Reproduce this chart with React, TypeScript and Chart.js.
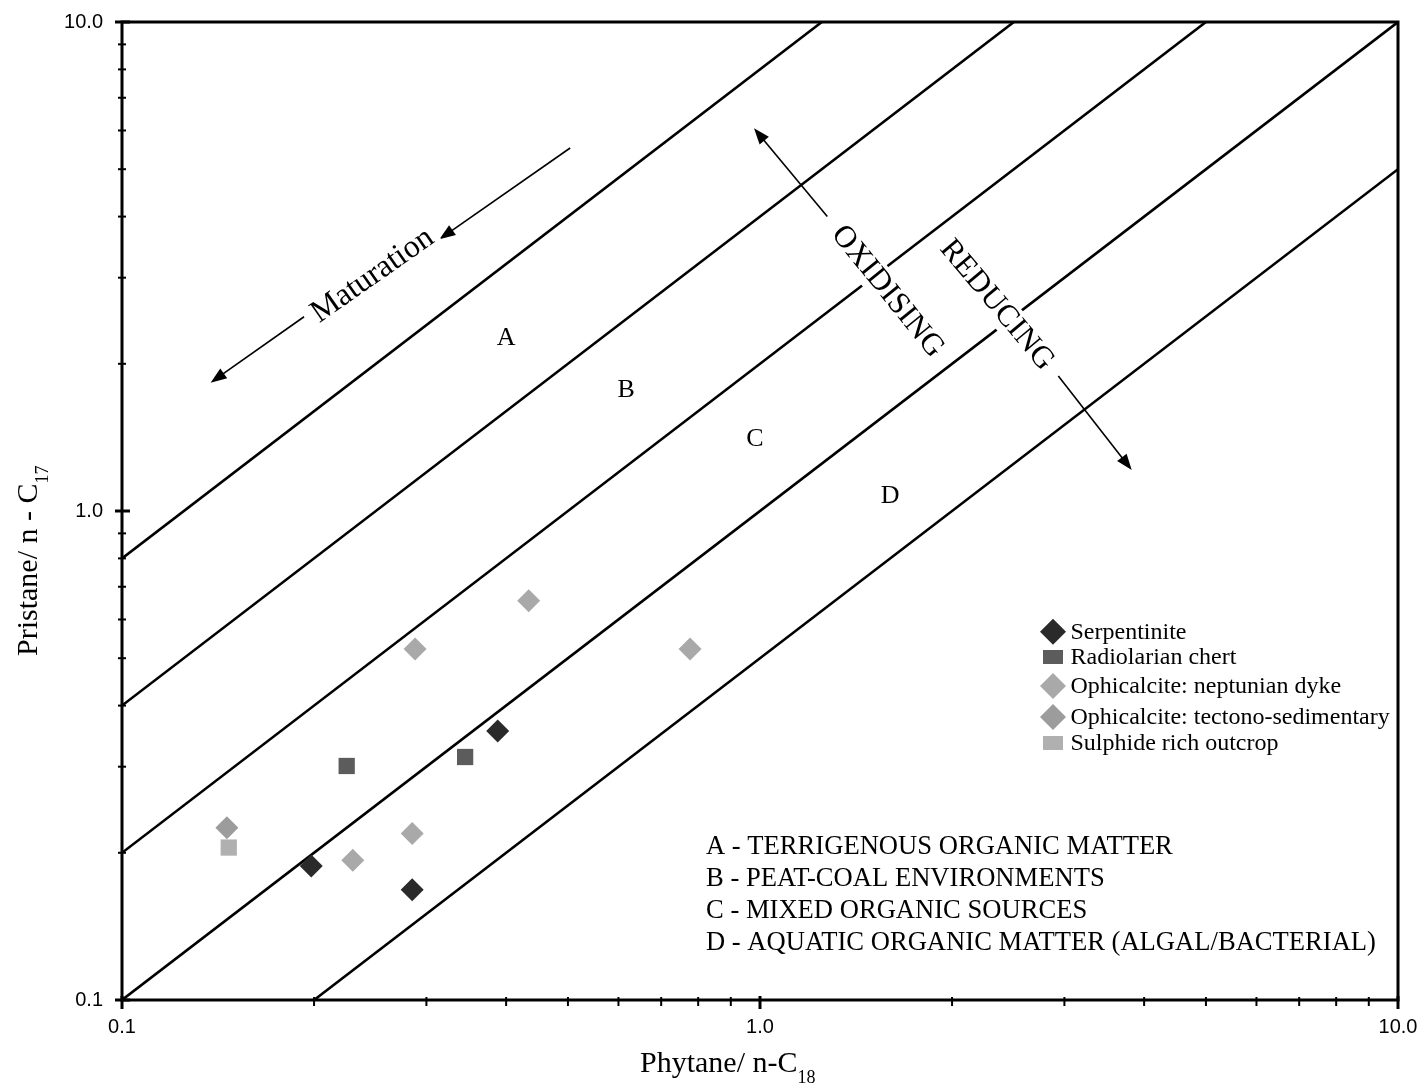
import React, { useEffect, useRef } from 'react';
import { Chart, registerables } from 'chart.js';

Chart.register(...registerables);

const SERIF = '"Liberation Serif", "Times New Roman", serif';
const SANS = '"Liberation Sans", Arial, sans-serif';

// ---- data series ----
const serpentiniteX = [0.198, 0.285, 0.388];
const serpentiniteY = [0.188, 0.168, 0.355];
const chertX = [0.225, 0.345];
const chertY = [0.301, 0.314];
const dykeX = [0.288, 0.434, 0.777, 0.285, 0.23];
const dykeY = [0.522, 0.655, 0.522, 0.219, 0.193];
const tectonoX = [0.146];
const tectonoY = [0.225];
const sulphideX = [0.147];
const sulphideY = [0.205];

const seriesNames = [
  'Serpentinite',
  'Radiolarian chert',
  'Ophicalcite: neptunian dyke',
  'Ophicalcite: tectono-sedimentary',
  'Sulphide rich outcrop',
];
const seriesColors = ['#2a2a2a', '#5c5c5c', '#a9a9a9', '#9c9c9c', '#b0b0b0'];
const seriesShapes = ['rectRot', 'rect', 'rectRot', 'rectRot', 'rect'];

// ---- zone boundary lines (Pr/n-C17 = k * Ph/n-C18) ----
const boundaryStartX = [0.2, 0.1, 0.1, 0.1, 0.1];
const boundaryStartY = [0.1, 0.1, 0.2, 0.4, 0.8];
const boundaryEndX = [10, 10, 5, 2.5, 1.25];
const boundaryEndY = [5, 10, 10, 10, 10];

// ---- ticks ----
const majorTicks = [0.1, 1, 10];
const minorTicks = [0.2, 0.3, 0.4, 0.5, 0.6, 0.7, 0.8, 0.9, 2, 3, 4, 5, 6, 7, 8, 9];

// ---- zone letters ----
const zoneLetters = ['A', 'B', 'C', 'D'];
const zoneLetterX = [0.4, 0.617, 0.982, 1.6];
const zoneLetterY = [2.26, 1.767, 1.404, 1.073];

const keyLines = [
  'A - TERRIGENOUS ORGANIC MATTER',
  'B - PEAT-COAL ENVIRONMENTS',
  'C - MIXED ORGANIC SOURCES',
  'D - AQUATIC ORGANIC MATTER (ALGAL/BACTERIAL)',
];

// arrows in data coordinates: [x1, y1, x2(tip), y2(tip)]
const arrowSegments = [
  [0.504, 5.525, 0.3144, 3.594],
  [0.1929, 2.496, 0.1377, 1.83],
  [1.275, 4.0, 0.9786, 6.06],
  [2.935, 1.888, 3.825, 1.213],
];

const rotatedLabels = ['Maturation', 'OXIDISING', 'REDUCING'];
const rotatedLabelX = [0.247, 1.584, 2.35];
const rotatedLabelY = [3.03, 2.81, 2.638];
const rotatedLabelAngle = [-35, 51, 50];

function pts(xs: number[], ys: number[]) {
  return xs.map((x, i) => ({ x, y: ys[i] }));
}

function drawArrow(ctx: CanvasRenderingContext2D, x1: number, y1: number, x2: number, y2: number) {
  const ang = Math.atan2(y2 - y1, x2 - x1);
  const L = 16;
  const W = 6;
  ctx.beginPath();
  ctx.moveTo(x1, y1);
  ctx.lineTo(x2 - Math.cos(ang) * L * 0.7, y2 - Math.sin(ang) * L * 0.7);
  ctx.stroke();
  ctx.beginPath();
  ctx.moveTo(x2, y2);
  ctx.lineTo(x2 - L * Math.cos(ang) + W * Math.sin(ang), y2 - L * Math.sin(ang) - W * Math.cos(ang));
  ctx.lineTo(x2 - L * Math.cos(ang) - W * Math.sin(ang), y2 - L * Math.sin(ang) + W * Math.cos(ang));
  ctx.closePath();
  ctx.fill();
}

const overlayPlugin = {
  id: 'overlay',
  afterDraw(chart: any) {
    const { ctx, chartArea } = chart;
    const xs = chart.scales.x;
    const ys = chart.scales.y;
    const { left, right, top, bottom } = chartArea;
    ctx.save();

    // frame
    ctx.strokeStyle = '#000';
    ctx.lineWidth = 3;
    ctx.strokeRect(left, top, right - left, bottom - top);

    // y ticks
    majorTicks.forEach((v) => {
      const p = ys.getPixelForValue(v);
      ctx.lineWidth = 3;
      ctx.beginPath();
      ctx.moveTo(left - 7, p);
      ctx.lineTo(left + 8, p);
      ctx.stroke();
    });
    minorTicks.forEach((v) => {
      const p = ys.getPixelForValue(v);
      ctx.lineWidth = 2;
      ctx.beginPath();
      ctx.moveTo(left - 4, p);
      ctx.lineTo(left + 4, p);
      ctx.stroke();
    });
    // x ticks
    majorTicks.forEach((v) => {
      const p = xs.getPixelForValue(v);
      ctx.lineWidth = 3;
      ctx.beginPath();
      ctx.moveTo(p, bottom - 4);
      ctx.lineTo(p, bottom + 9);
      ctx.stroke();
    });
    minorTicks.forEach((v) => {
      const p = xs.getPixelForValue(v);
      ctx.lineWidth = 2;
      ctx.beginPath();
      ctx.moveTo(p, bottom - 3);
      ctx.lineTo(p, bottom + 6);
      ctx.stroke();
    });

    // arrows
    ctx.fillStyle = '#000';
    ctx.lineWidth = 1.6;
    arrowSegments.forEach((a) => {
      drawArrow(
        ctx,
        xs.getPixelForValue(a[0]),
        ys.getPixelForValue(a[1]),
        xs.getPixelForValue(a[2]),
        ys.getPixelForValue(a[3])
      );
    });

    // rotated labels with white background
    rotatedLabels.forEach((t, i) => {
      const px = xs.getPixelForValue(rotatedLabelX[i]);
      const py = ys.getPixelForValue(rotatedLabelY[i]);
      ctx.save();
      ctx.translate(px, py);
      ctx.rotate((rotatedLabelAngle[i] * Math.PI) / 180);
      ctx.font = (i === 0 ? '32px ' : '31px ') + SERIF;
      const w = ctx.measureText(t).width;
      ctx.fillStyle = '#fff';
      ctx.fillRect(-w / 2 - 6, -16, w + 12, 32);
      ctx.fillStyle = '#000';
      ctx.textAlign = 'center';
      ctx.textBaseline = 'middle';
      ctx.fillText(t, 0, 0);
      ctx.restore();
    });

    // zone letters
    ctx.font = '26px ' + SERIF;
    ctx.fillStyle = '#000';
    ctx.textAlign = 'center';
    ctx.textBaseline = 'middle';
    zoneLetters.forEach((t, i) => {
      ctx.fillText(t, xs.getPixelForValue(zoneLetterX[i]), ys.getPixelForValue(zoneLetterY[i]));
    });

    // key text
    ctx.font = '26.6px ' + SERIF;
    ctx.textAlign = 'left';
    ctx.textBaseline = 'middle';
    keyLines.forEach((t, i) => {
      ctx.fillText(t, 706, 847 + i * 32);
    });

    // legend
    const legendRowY = [631.7, 657, 686, 717, 743];
    const mx = 1053;
    ctx.font = '24px ' + SERIF;
    seriesNames.forEach((name, i) => {
      const cy = legendRowY[i];
      ctx.fillStyle = seriesColors[i];
      if (seriesShapes[i] === 'rectRot') {
        const r = 13;
        ctx.beginPath();
        ctx.moveTo(mx, cy - r);
        ctx.lineTo(mx + r, cy);
        ctx.lineTo(mx, cy + r);
        ctx.lineTo(mx - r, cy);
        ctx.closePath();
        ctx.fill();
      } else {
        ctx.fillRect(mx - 10, cy - 7, 20, 14);
      }
      ctx.fillStyle = '#000';
      ctx.fillText(name, 1070.5, cy + 1);
    });

    // x axis title
    ctx.textAlign = 'left';
    ctx.textBaseline = 'alphabetic';
    ctx.font = '30px ' + SERIF;
    const xt = 'Phytane/ n-C';
    const xtx = 640;
    ctx.fillText(xt, xtx, 1071.5);
    const xw = ctx.measureText(xt).width;
    ctx.font = '18px ' + SERIF;
    ctx.fillText('18', xtx + xw, 1082.5);

    // y axis title
    ctx.save();
    ctx.translate(37, 656);
    ctx.rotate(-Math.PI / 2);
    ctx.font = '30px ' + SERIF;
    const yt = 'Pristane/ n - C';
    ctx.fillText(yt, 0, 0);
    const yw = ctx.measureText(yt).width;
    ctx.font = '18px ' + SERIF;
    ctx.fillText('17', yw, 11);
    ctx.restore();

    ctx.restore();
  },
};

export default function App() {
  const canvasRef = useRef<HTMLCanvasElement | null>(null);

  useEffect(() => {
    const canvas = canvasRef.current;
    if (!canvas) return;

    const seriesX = [serpentiniteX, chertX, dykeX, tectonoX, sulphideX];
    const seriesY = [serpentiniteY, chertY, dykeY, tectonoY, sulphideY];

    const boundaryDatasets = boundaryStartX.map((sx, i) => ({
      label: 'boundary' + i,
      data: [
        { x: sx, y: boundaryStartY[i] },
        { x: boundaryEndX[i], y: boundaryEndY[i] },
      ],
      showLine: true,
      borderColor: '#000',
      borderWidth: 2.6,
      pointRadius: 0,
      pointHoverRadius: 0,
      fill: false,
      order: 10,
    }));

    const drawOrder = [2, 3, 1, 0, 4];
    const pointDatasets = drawOrder.map((i, k) => ({
      label: seriesNames[i],
      data: pts(seriesX[i], seriesY[i]),
      showLine: false,
      pointStyle: seriesShapes[i],
      pointRadius: 11.5,
      pointHoverRadius: 11.5,
      backgroundColor: seriesColors[i],
      borderColor: seriesColors[i],
      borderWidth: 0,
      order: 5 - k,
    }));

    const zeroPadding = (scale: any) => {
      scale.paddingTop = 0;
      scale.paddingBottom = 0;
      scale.paddingLeft = 0;
      scale.paddingRight = 0;
    };

    const chart = new Chart(canvas, {
      type: 'scatter',
      data: { datasets: [...boundaryDatasets, ...pointDatasets] as any },
      options: {
        responsive: false,
        animation: false,
        events: [],
        layout: { padding: { top: 22, right: 24, left: 0, bottom: 0 } },
        plugins: {
          legend: { display: false },
          tooltip: { enabled: false },
        },
        scales: {
          x: {
            type: 'logarithmic',
            min: 0.1,
            max: 10,
            grid: { display: false, drawTicks: false },
            border: { display: false },
            afterBuildTicks: (scale: any) => {
              scale.ticks = majorTicks.map((v) => ({ value: v }));
            },
            afterFit: (scale: any) => {
              scale.height = 86;
              zeroPadding(scale);
            },
            ticks: {
              autoSkip: false,
              maxRotation: 0,
              padding: 15,
              color: '#000',
              font: { family: SANS, size: 20 },
              callback: (v: any) => Number(v).toFixed(1),
            },
          },
          y: {
            type: 'logarithmic',
            min: 0.1,
            max: 10,
            grid: { display: false, drawTicks: false },
            border: { display: false },
            afterBuildTicks: (scale: any) => {
              scale.ticks = majorTicks.map((v) => ({ value: v }));
            },
            afterFit: (scale: any) => {
              scale.width = 122;
              zeroPadding(scale);
            },
            ticks: {
              autoSkip: false,
              padding: 19,
              color: '#000',
              font: { family: SANS, size: 20 },
              callback: (v: any) => Number(v).toFixed(1),
            },
          },
        },
      } as any,
      plugins: [overlayPlugin],
    });

    return () => chart.destroy();
  }, []);

  return (
    <div style={{ position: 'absolute', left: 0, top: 0, width: 1422, height: 1086, background: '#fff' }}>
      <canvas ref={canvasRef} width={1422} height={1086} style={{ display: 'block' }} />
    </div>
  );
}
